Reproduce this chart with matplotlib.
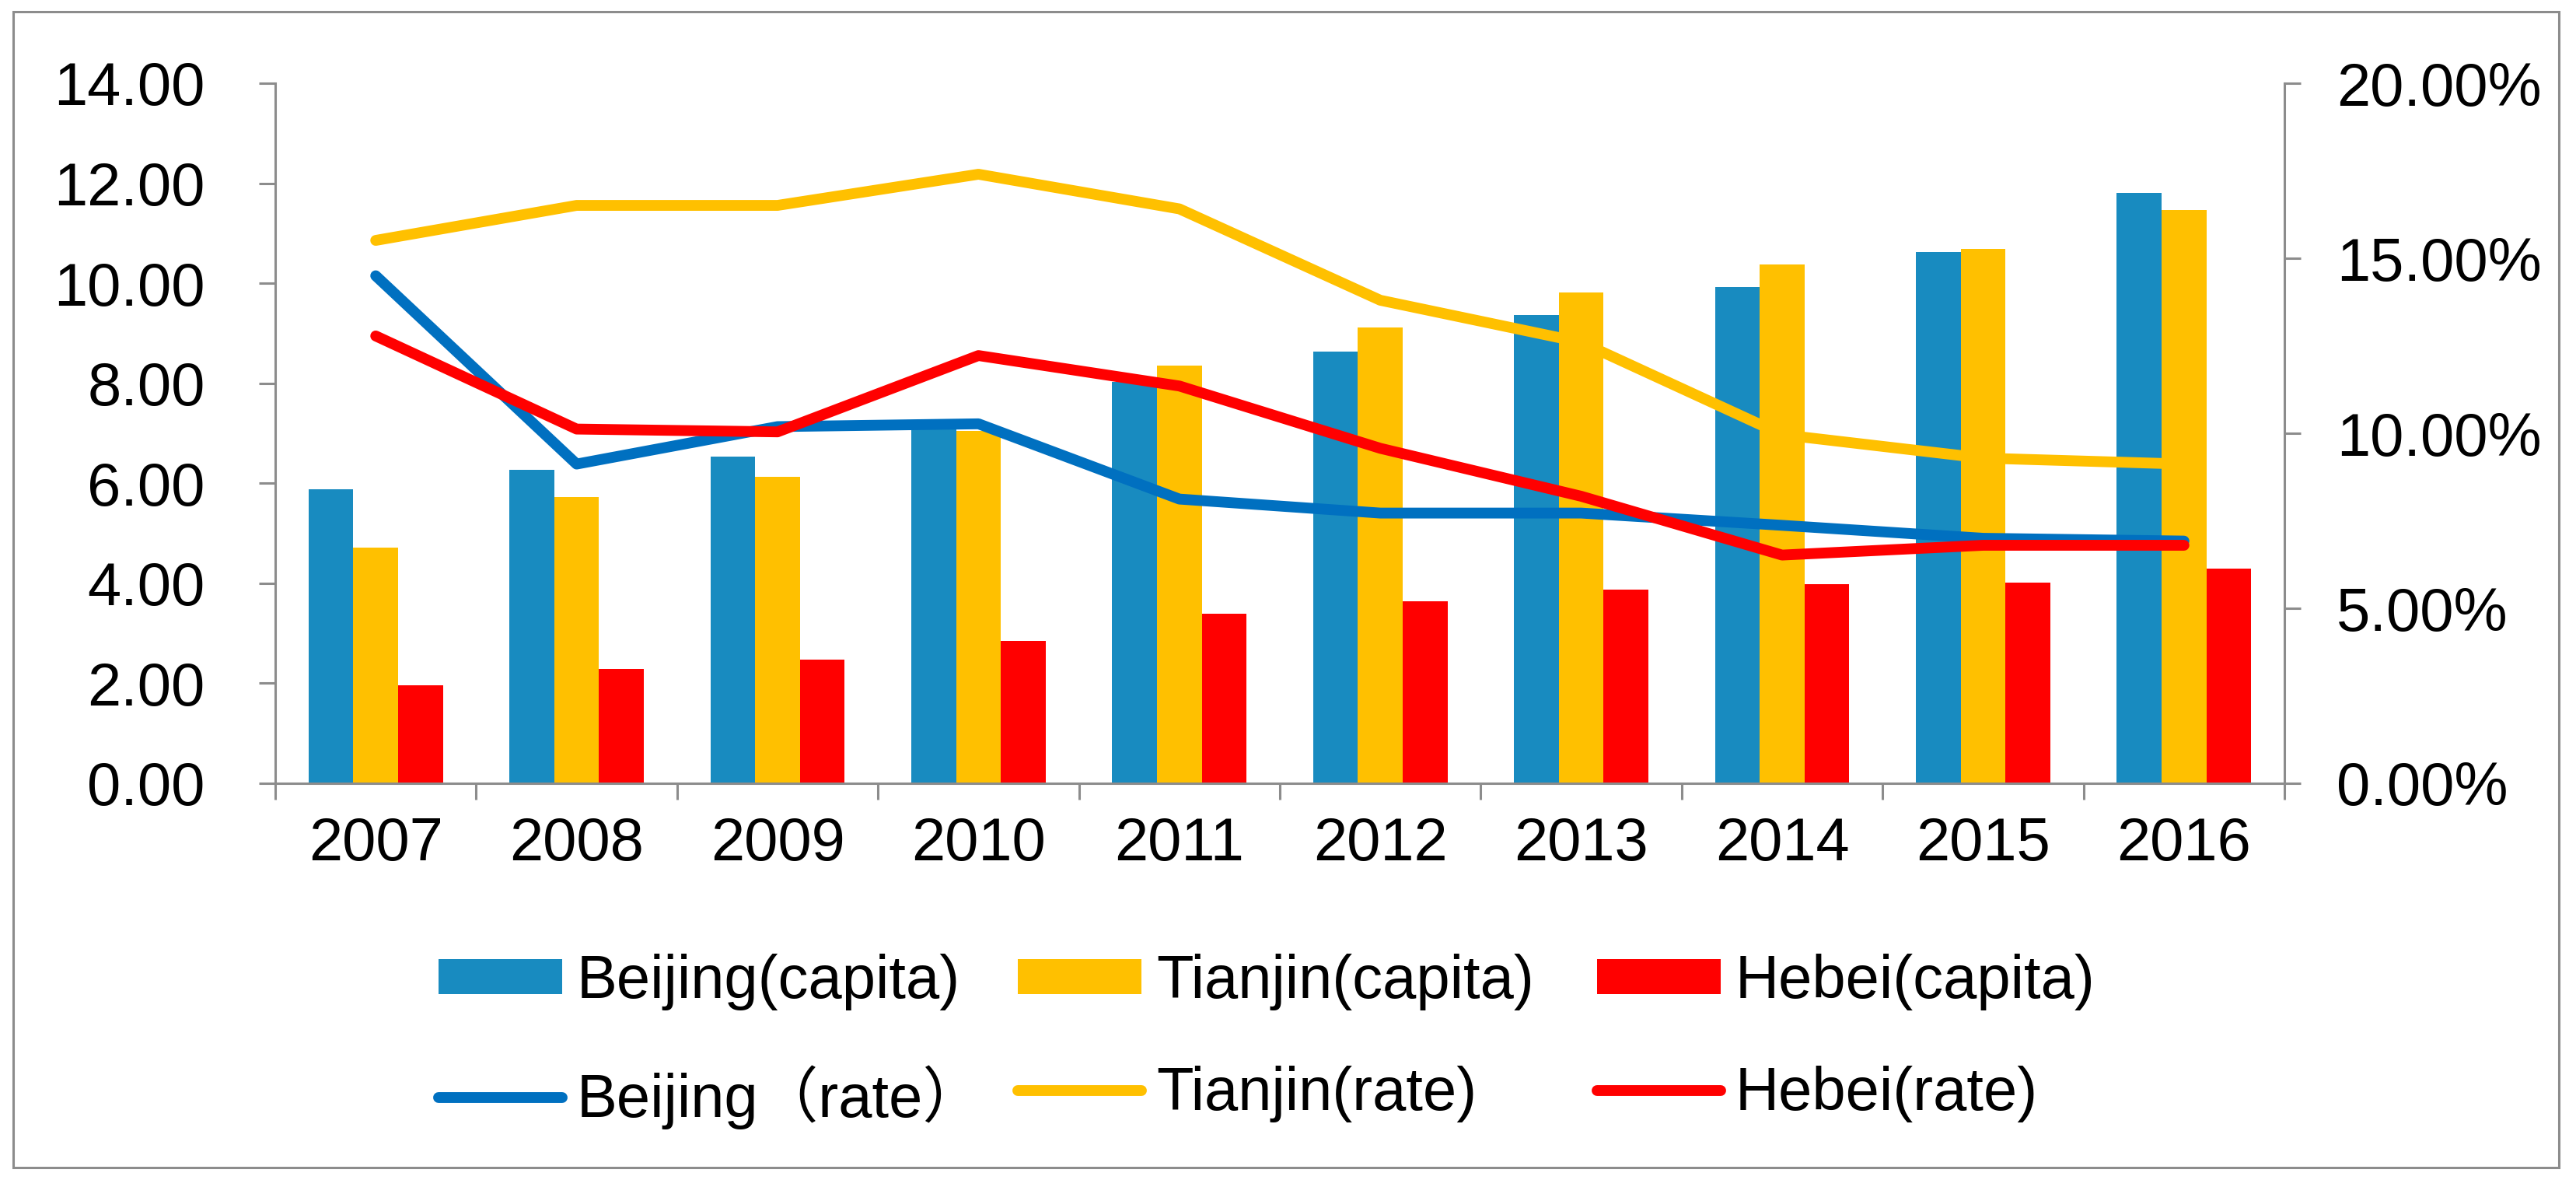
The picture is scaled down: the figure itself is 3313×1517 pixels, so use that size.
import matplotlib
matplotlib.use('Agg')
import matplotlib.pyplot as plt
from matplotlib.patches import Rectangle
import numpy as np

plt.rcParams['font.family'] = ['Liberation Sans', 'Noto Sans CJK SC', 'DejaVu Sans']

# data
years = ['2007', '2008', '2009', '2010', '2011', '2012', '2013', '2014', '2015', '2016']
beijing_capita = [5.88, 6.27, 6.54, 7.08, 8.03, 8.64, 9.37, 9.92, 10.62, 11.81]
tianjin_capita = [4.71, 5.72, 6.13, 7.05, 8.35, 9.12, 9.82, 10.38, 10.69, 11.46]
hebei_capita = [1.96, 2.29, 2.47, 2.84, 3.39, 3.64, 3.88, 3.98, 4.02, 4.30]
beijing_rate = [14.50, 9.12, 10.19, 10.27, 8.12, 7.72, 7.72, 7.37, 7.00, 6.92]
tianjin_rate = [15.51, 16.51, 16.51, 17.40, 16.41, 13.80, 12.60, 9.96, 9.29, 9.12]
hebei_rate = [12.78, 10.12, 10.04, 12.22, 11.35, 9.57, 8.20, 6.52, 6.80, 6.80]

W, H = 3313, 1517
fig = plt.figure(figsize=(W / 100, H / 100), dpi=100)
ax = fig.add_axes([354 / W, 1 - 1007 / H, (2938 - 354) / W, (1007 - 107) / H])
ax2 = ax.twinx()

grey = '#8c8c8c'
fs = 56
lw = 10
x = np.arange(len(years))
bw = 0.223

b1 = ax.bar(x - bw, beijing_capita, bw, color='#188bc0', label='Beijing(capita)')
b2 = ax.bar(x, tianjin_capita, bw, color='#ffc000', label='Tianjin(capita)')
b3 = ax.bar(x + bw, hebei_capita, bw, color='#ff0000', label='Hebei(capita)')

l1, = ax2.plot(x, beijing_rate, color='#0070c0', lw=lw, solid_capstyle='round',
               solid_joinstyle='round', label='Beijing（rate）')
l2, = ax2.plot(x, tianjin_rate, color='#ffc000', lw=lw, solid_capstyle='round',
               solid_joinstyle='round', label='Tianjin(rate)')
l3, = ax2.plot(x, hebei_rate, color='#ff0000', lw=lw, solid_capstyle='round',
               solid_joinstyle='round', label='Hebei(rate)')

ax.set_xlim(-0.5, len(years) - 0.5)
ax.set_ylim(0, 14)
ax2.set_ylim(0, 20)
ax.set_yticks(np.arange(0, 15, 2))
ax.set_yticklabels(['%.2f' % v for v in np.arange(0, 15, 2)])
ax2.set_yticks(np.arange(0, 21, 5))
ax2.set_yticklabels(['%.2f%%' % v for v in np.arange(0, 21, 5)])

ax.set_xticks(np.arange(-0.5, len(years), 1.0))
ax.set_xticklabels([])
ax.set_xticks(x, minor=True)
ax.set_xticklabels(years, minor=True)

for a in (ax, ax2):
    a.spines['top'].set_visible(False)
    for s in ('left', 'right', 'bottom'):
        a.spines[s].set_color(grey)
        a.spines[s].set_linewidth(2.2)
ax.spines['right'].set_visible(False)
ax2.spines['left'].set_visible(False)
ax2.spines['bottom'].set_visible(False)

ax.tick_params(axis='y', length=15, width=2.2, color=grey, pad=50, labelsize=fs)
ax2.tick_params(axis='y', length=15, width=2.2, color=grey, pad=33, labelsize=fs)
ax.tick_params(axis='x', which='major', length=15, width=2.2, color=grey)
ax.tick_params(axis='x', which='minor', length=0, pad=30, labelsize=fs)

# one legend per column so each column sits where it does in the reference
cols = [(b1, l1, 564), (b2, l2, 1309), (b3, l3, 2054)]
for bar_h, line_h, left in cols:
    leg = fig.legend([bar_h, line_h], [bar_h.get_label(), line_h.get_label()],
                     fontsize=fs, loc='upper left',
                     bbox_to_anchor=(left / W, 1 - 1226 / H),
                     frameon=False, borderpad=0, borderaxespad=0,
                     handlelength=2.05, handleheight=0.53, handletextpad=0.24,
                     labelspacing=0.91)

fig.patches.append(Rectangle((17 / W, 1 - 1501 / H), (3291 - 17) / W, (1501 - 15) / H,
                             transform=fig.transFigure, fill=False,
                             edgecolor=grey, lw=2.2))

fig.savefig('out.png', dpi=100)
